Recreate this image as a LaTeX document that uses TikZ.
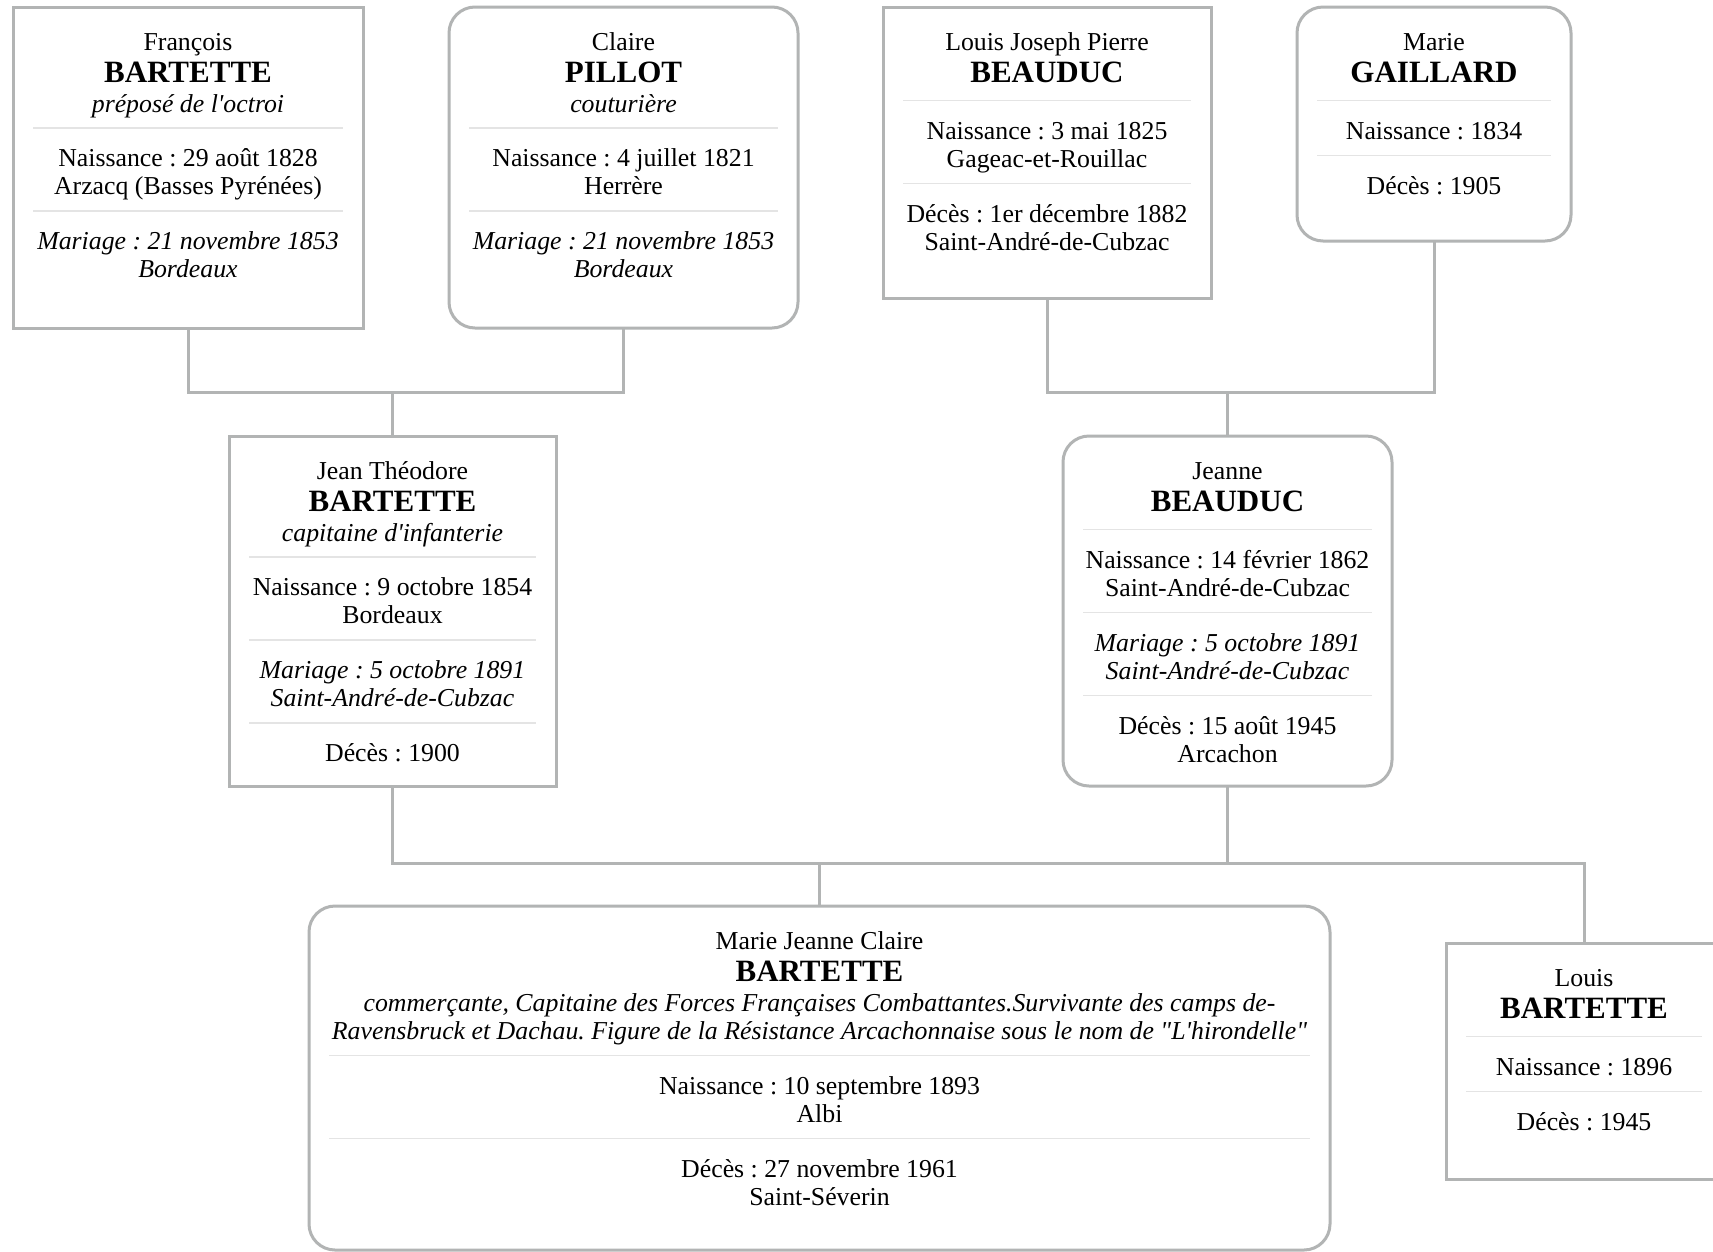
\documentclass[tikz,border=0pt]{standalone}
\usepackage{fontspec}
\setmainfont[Ligatures=TeXOff]{Liberation Serif}
\frenchspacing
\definecolor{bordergray}{RGB}{178,180,180}
\definecolor{sepgray}{RGB}{228,228,228}
\begin{document}
\frenchspacing
\begin{tikzpicture}[x=1pt,y=-1pt,
 sqbox/.style={draw=bordergray,line width=3pt,fill=white,rectangle,outer sep=0pt,inner sep=0pt},
 rdbox/.style={sqbox,rounded corners=26pt},
 conn/.style={draw=bordergray,line width=3pt},
 sepl/.style={draw=sepgray,line width=1.5pt},
 tx/.style={anchor=base,inner sep=0pt,font=\fontsize{25.8}{28}\selectfont},
 ti/.style={anchor=base,inner sep=0pt,font=\fontsize{25.8}{28}\selectfont\itshape},
 tb/.style={anchor=base,inner sep=0pt,font=\fontsize{31}{34}\selectfont\bfseries}]
\useasboundingbox (0,0) rectangle (1713,1251);
\clip (0,0) rectangle (1713,1251);
\fill[white] (0,0) rectangle (1713,1251);

% boxes
\node[sqbox,minimum width=350pt,minimum height=321pt] (b1) at (188,167.5) {};
\node[rdbox,minimum width=349pt,minimum height=321pt] (b2) at (623.5,167.5) {};
\node[sqbox,minimum width=328pt,minimum height=291pt] (b3) at (1047,152.5) {};
\node[rdbox,minimum width=274pt,minimum height=234pt] (b4) at (1434,124) {};
\node[sqbox,minimum width=327pt,minimum height=350pt] (b5) at (392.5,611) {};
\node[rdbox,minimum width=329pt,minimum height=350pt] (b6) at (1227.5,611) {};
\node[rdbox,minimum width=1021pt,minimum height=344pt] (b7) at (819.5,1078) {};
\node[sqbox,minimum width=276pt,minimum height=236pt] (b8) at (1584,1061) {};

% connectors
\coordinate (r1) at (0,392);
\coordinate (r2) at (0,863);
\draw[conn] (b1.south) -- (b1.south |- r1) -- (b2.south |- r1) -- (b2.south);
\draw[conn] (b5.north |- r1) -- (b5.north);
\draw[conn] (b3.south) -- (b3.south |- r1) -- (b4.south |- r1) -- (b4.south);
\draw[conn] (b6.north |- r1) -- (b6.north);
\draw[conn] (b5.south) -- (b5.south |- r2) -- (b8.north |- r2) -- (b8.north);
\draw[conn] (b6.south) -- (b6.south |- r2);
\draw[conn] (b7.north |- r2) -- (b7.north);

% box 1
\node[tx] (t1a) at (188,50.5) {François};
\node[tb] (t1b) at (188,82.5) {BARTETTE};
\node[ti] (t1c) at (188,112) {préposé de l'octroi};
\draw[sepl] (33,128) -- (343,128);
\node[tx] (t1d) at (188,166.5) {Naissance : 29 août 1828};
\node[tx] (t1e) at (188,194.5) {Arzacq (Basses Pyrénées)};
\draw[sepl] (33,211) -- (343,211);
\node[ti] (t1f) at (188,249.5) {Mariage : 21 novembre 1853};
\node[ti] (t1g) at (188,277.5) {Bordeaux};

% box 2
\node[tx] (t2a) at (623.5,50.5) {Claire};
\node[tb] (t2b) at (623.5,82.5) {PILLOT};
\node[ti] (t2c) at (623.5,112) {couturière};
\draw[sepl] (469,128) -- (778,128);
\node[tx] (t2d) at (623.5,166.5) {Naissance : 4 juillet 1821};
\node[tx] (t2e) at (623.5,194.5) {Herrère};
\draw[sepl] (469,211) -- (778,211);
\node[ti] (t2f) at (623.5,249.5) {Mariage : 21 novembre 1853};
\node[ti] (t2g) at (623.5,277.5) {Bordeaux};

% box 3
\node[tx] (t3a) at (1047,50.5) {Louis Joseph Pierre};
\node[tb] (t3b) at (1047,82.5) {BEAUDUC};
\draw[sepl] (903,100.5) -- (1191,100.5);
\node[tx] (t3c) at (1047,139) {Naissance : 3 mai 1825};
\node[tx] (t3d) at (1047,167) {Gageac-et-Rouillac};
\draw[sepl] (903,183.5) -- (1191,183.5);
\node[tx] (t3e) at (1047,222) {Décès : 1er décembre 1882};
\node[tx] (t3f) at (1047,250) {Saint-André-de-Cubzac};

% box 4
\node[tx] (t4a) at (1434,50.5) {Marie};
\node[tb] (t4b) at (1434,82.5) {GAILLARD};
\draw[sepl] (1317,100.5) -- (1551,100.5);
\node[tx] (t4c) at (1434,139) {Naissance : 1834};
\draw[sepl] (1317,155.5) -- (1551,155.5);
\node[tx] (t4d) at (1434,194) {Décès : 1905};

% box 5
\node[tx] (t5a) at (392.5,479.5) {Jean Théodore};
\node[tb] (t5b) at (392.5,511.5) {BARTETTE};
\node[ti] (t5c) at (392.5,541) {capitaine d'infanterie};
\draw[sepl] (249,557) -- (536,557);
\node[tx] (t5d) at (392.5,595.5) {Naissance : 9 octobre 1854};
\node[tx] (t5e) at (392.5,623.5) {Bordeaux};
\draw[sepl] (249,640) -- (536,640);
\node[ti] (t5f) at (392.5,678.5) {Mariage : 5 octobre 1891};
\node[ti] (t5g) at (392.5,706.5) {Saint-André-de-Cubzac};
\draw[sepl] (249,723) -- (536,723);
\node[tx] (t5h) at (392.5,761.5) {Décès : 1900};

% box 6
\node[tx] (t6a) at (1227.5,479.5) {Jeanne};
\node[tb] (t6b) at (1227.5,511.5) {BEAUDUC};
\draw[sepl] (1083,529.5) -- (1372,529.5);
\node[tx] (t6c) at (1227.5,568) {Naissance : 14 février 1862};
\node[tx] (t6d) at (1227.5,596) {Saint-André-de-Cubzac};
\draw[sepl] (1083,612.5) -- (1372,612.5);
\node[ti] (t6e) at (1227.5,651) {Mariage : 5 octobre 1891};
\node[ti] (t6f) at (1227.5,679) {Saint-André-de-Cubzac};
\draw[sepl] (1083,695.5) -- (1372,695.5);
\node[tx] (t6g) at (1227.5,734) {Décès : 15 août 1945};
\node[tx] (t6h) at (1227.5,762) {Arcachon};

% box 7
\node[tx] (t7a) at (819.5,949.5) {Marie Jeanne Claire};
\node[tb] (t7b) at (819.5,981.5) {BARTETTE};
\node[ti] (t7c) at (819.5,1011) {commerçante, Capitaine des Forces Françaises Combattantes.Survivante des camps de-};
\node[ti] (t7d) at (819.5,1039) {Ravensbruck et Dachau. Figure de la Résistance Arcachonnaise sous le nom de "L'hirondelle"};
\draw[sepl] (329,1055.5) -- (1310,1055.5);
\node[tx] (t7e) at (819.5,1094) {Naissance : 10 septembre 1893};
\node[tx] (t7f) at (819.5,1122) {Albi};
\draw[sepl] (329,1138.5) -- (1310,1138.5);
\node[tx] (t7g) at (819.5,1177) {Décès : 27 novembre 1961};
\node[tx] (t7h) at (819.5,1205) {Saint-Séverin};

% box 8
\node[tx] (t8a) at (1584,986.5) {Louis};
\node[tb] (t8b) at (1584,1018.5) {BARTETTE};
\draw[sepl] (1466,1036.5) -- (1702,1036.5);
\node[tx] (t8c) at (1584,1075) {Naissance : 1896};
\draw[sepl] (1466,1091.5) -- (1702,1091.5);
\node[tx] (t8d) at (1584,1130) {Décès : 1945};
\end{tikzpicture}
\end{document}
